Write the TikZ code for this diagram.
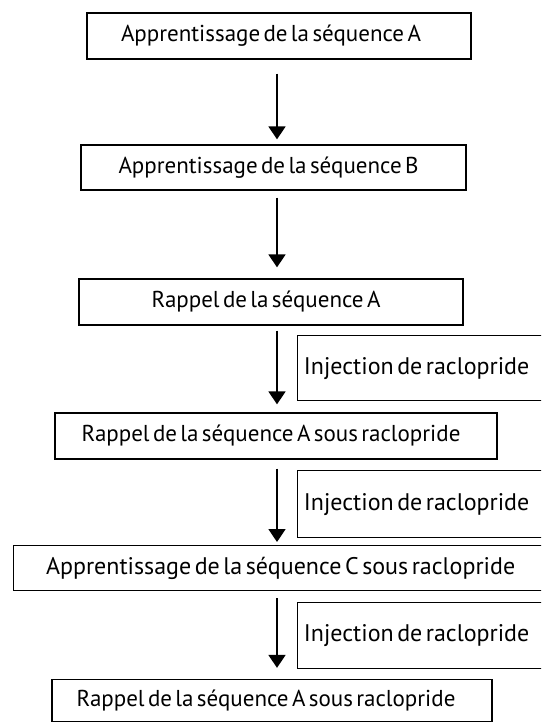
\documentclass[tikz,border=0pt]{standalone}
\usepackage{fontspec}
\setmainfont[WordSpace=0.55]{PT Sans}
\usetikzlibrary{arrows.meta}
\begin{document}
\begin{tikzpicture}[x=1pt,y=-1pt,
  box/.style={draw, line width=1.3pt, inner sep=0pt, font=\fontsize{23}{26}\selectfont},
  sidebox/.style={box, anchor=north west, minimum width=252pt, font=\fontsize{24}{27}\selectfont},
  arr/.style={line width=1.8pt, -{Triangle[width=17pt,length=13pt]}}]
\useasboundingbox (0,0) rectangle (541,722);
\clip (0,0) rectangle (541,722);
\fill[white] (0,0) rectangle (541,722);
% main boxes
\node[box, minimum width=384pt, minimum height=46pt] (b1) at (279,36) {Apprentissage de la séquence A\kern16pt};
\node[box, minimum width=385pt, minimum height=45pt] (b2) at (273.5,167.5) {Apprentissage de la séquence B\kern10pt};
\node[box, minimum width=384pt, minimum height=46pt] (b3) at (271,302) {Rappel de la séquence A\kern10pt};
\node[box, minimum width=442pt, minimum height=46pt] (b4) at (276,436) {Rappel de la séquence A sous raclopride\kern10pt};
\node[box, anchor=north west, minimum width=560pt, minimum height=45pt] (b5) at (13,545) {\fontsize{24}{27}\selectfont Apprentissage de la séquence C sous raclopride\kern26pt};
\node[box, minimum width=440pt, minimum height=42pt] (b6) at (272,700.5) {Rappel de la séquence A sous raclopride\kern12pt};
% side boxes
\node[sidebox, minimum height=65pt] (s1) at (297,335) {Injection de raclopride\kern14pt};
\node[sidebox, minimum height=67pt] (s2) at (297,470) {Injection de raclopride\kern14pt};
\node[sidebox, minimum height=66pt] (s3) at (297,602) {Injection de raclopride\kern14pt};
% arrows
\coordinate (ax) at (277,0);
\draw[arr, shorten <=14pt, shorten >=5pt] (b1.south -| ax) -- (b2.north -| ax);
\draw[arr, shorten <=7pt, shorten >=11pt] (b2.south -| ax) -- (b3.north -| ax);
\draw[arr, shorten <=5pt, shorten >=8pt] (b3.south -| ax) -- (b4.north -| ax);
\draw[arr, shorten <=9pt, shorten >=3pt] (b4.south -| ax) -- (b5.north -| ax);
\draw[arr, shorten <=7pt, shorten >=11pt] (b5.south -| ax) -- (b6.north -| ax);
\end{tikzpicture}
\end{document}
